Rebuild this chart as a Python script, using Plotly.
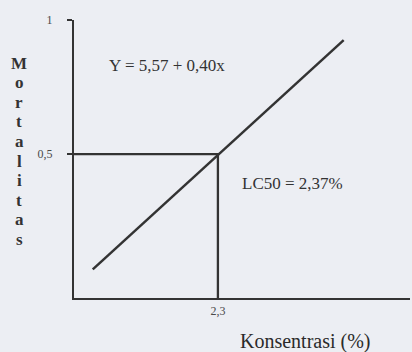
import plotly.graph_objects as go

# Regresi mortalitas vs konsentrasi
line_x = [0.30, 4.31]
line_y = [0.07, 0.925]

lc_x = 2.3
lc_y = 0.5
y_min = -0.037

x_ticks = [2.3]
x_ticktext = ["2,3"]
y_ticks = [0.5, 1]
y_ticktext = ["0,5", "1"]

y_title = "Mortalitas"

INK = "#333333"
BG = "#eceef3"
SERIF = "'Liberation Serif', 'Times New Roman', serif"

W, H = 412, 352
M_L, M_R, M_T, M_B = 74, 2, 20, 54


def px(x):
    # piksel horizontal -> koordinat paper
    return (x - M_L) / (W - M_L - M_R)


def py(y):
    # piksel vertikal (dari atas) -> koordinat paper
    return (H - M_B - y) / (H - M_T - M_B)


fig = go.Figure()

# garis LC50
fig.add_trace(go.Scatter(
    x=[0, lc_x, lc_x], y=[lc_y, lc_y, y_min],
    mode="lines", line=dict(color=INK, width=2.3),
    hoverinfo="skip", showlegend=False,
))

# garis regresi
fig.add_trace(go.Scatter(
    x=line_x, y=line_y,
    mode="lines", line=dict(color=INK, width=2.5),
    showlegend=False,
))

fig.add_annotation(x=0.53, y=0.83, xref="x", yref="y", text="Y = 5,57 + 0,40x",
                   showarrow=False, xanchor="left", yanchor="middle",
                   font=dict(family=SERIF, size=17, color=INK))
fig.add_annotation(x=2.66, y=0.39, xref="x", yref="y", text="LC50 = 2,37%",
                   showarrow=False, xanchor="left", yanchor="middle",
                   font=dict(family=SERIF, size=17, color=INK))
fig.add_annotation(x=px(238), y=py(341), xref="paper", yref="paper",
                   text="Konsentrasi (%)",
                   showarrow=False, xanchor="left", yanchor="middle",
                   font=dict(family=SERIF, size=20, color="#2a2a2a"))

# judul sumbu Y, huruf disusun vertikal
for i, ch in enumerate(y_title):
    fig.add_annotation(x=px(19), y=py(63 + i * 19.6), xref="paper", yref="paper",
                       text=f"<b>{ch}</b>", showarrow=False,
                       xanchor="center", yanchor="middle",
                       font=dict(family=SERIF, size=17, color=INK))

fig.update_layout(
    width=W, height=H,
    margin=dict(l=M_L, r=M_R, t=M_T, b=M_B),
    paper_bgcolor=BG, plot_bgcolor=BG,
    font=dict(family=SERIF, color="#4a4a4a"),
    xaxis=dict(range=[0, 5.37], showgrid=False, zeroline=False, automargin=False,
               showline=True, linecolor=INK, linewidth=2.4,
               tickvals=x_ticks, ticktext=x_ticktext, ticks="",
               tickfont=dict(size=12, family=SERIF, color="#4a4a4a")),
    yaxis=dict(range=[y_min, 1], showgrid=False, zeroline=False, automargin=False,
               showline=True, linecolor=INK, linewidth=2.4,
               tickvals=y_ticks, ticktext=y_ticktext, ticks="outside",
               ticklen=5, tickwidth=2, tickcolor=INK, ticklabelstandoff=12,
               tickfont=dict(size=12, family=SERIF, color="#4a4a4a")),
)

# hilangkan margin bawaan body agar gambar pas di jendela
fig.write_html("out.html", config={"displayModeBar": False}, post_script=(
    "document.body.style.margin='0';"
    "document.body.style.background='%s';" % BG
))
